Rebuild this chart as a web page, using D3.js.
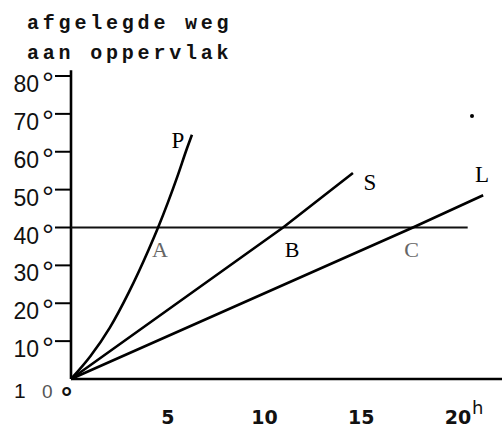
<!DOCTYPE html>
<html><head><meta charset="utf-8">
<script src="https://cdn.jsdelivr.net/npm/d3@7"></script>
<style>html,body{margin:0;padding:0;background:#fff;}svg{display:block;}</style>
</head><body>
<script>
const titleLines = ["afgelegde weg", "aan oppervlak"];
const yTicks = [10, 20, 30, 40, 50, 60, 70, 80];
const xTicks = [5, 10, 15, 20];
const xUnit = "h";
const curveP = [[0,0],[1,6],[2,13.5],[3,23],[4,34],[4.5,40],[5,46.5],[5.5,53.5],[6,61],[6.25,64.5]];
const lineS = [[0,0],[10.96,40],[14.57,54.4]];
const lineL = [[0,0],[17.67,40],[21.3,48.5]];
const refLevel = 40;
const refEnd = 20.5;
const curveLabels = [{n:"P", x:5.53, y:61}, {n:"S", x:15.45, y:50}, {n:"L", x:21.24, y:52}];
const pointLabels = [{n:"A", x:4.6, y:32.2, faint:true}, {n:"B", x:11.42, y:32.2, faint:false}, {n:"C", x:17.6, y:32.2, faint:true}];

const W = 502, H = 427;
const svg = d3.select("body").append("svg").attr("width", W).attr("height", H);
const x = d3.scaleLinear().domain([0, 20]).range([71, 458]);
const y = d3.scaleLinear().domain([0, 80]).range([379, 76]);

// title
const tf = "'Liberation Mono', 'DejaVu Sans Mono', monospace";
svg.selectAll("text.title").data(titleLines).join("text")
  .attr("x", 27).attr("y", (d,i) => 29 + i*30)
  .attr("font-family", tf).attr("font-size", 20).attr("font-weight", "bold")
  .attr("letter-spacing", 3.8).attr("fill", "#111").text(d => d);

// axes
svg.append("line").attr("x1", x(0)).attr("x2", x(0)).attr("y1", y(81.5)).attr("y2", y(0))
  .attr("stroke", "#000").attr("stroke-width", 2.6);
svg.append("line").attr("x1", x(0)).attr("x2", W).attr("y1", y(0)).attr("y2", y(0))
  .attr("stroke", "#000").attr("stroke-width", 2.6);

// y ticks
const lf = "'Liberation Sans', 'DejaVu Sans', sans-serif";
const yt = svg.selectAll("g.yt").data(yTicks).join("g").attr("class","yt");
yt.append("line").attr("x1", 55).attr("x2", x(0)).attr("y1", d => y(d)).attr("y2", d => y(d))
  .attr("stroke", "#000").attr("stroke-width", 2);
yt.append("text").attr("x", 39).attr("y", d => y(d) + 16).attr("text-anchor", "end")
  .attr("font-family", lf).attr("font-size", 23).attr("fill", "#111").text(d => d);
yt.append("text").attr("x", 42).attr("y", d => y(d) + 17)
  .attr("font-family", lf).attr("font-size", 30).attr("fill", "#111").text("°");

// origin label
svg.append("text").attr("x", 14).attr("y", 398).attr("font-family", lf).attr("font-size", 21).attr("fill", "#111").text("1");
svg.append("text").attr("x", 42).attr("y", 398).attr("font-family", lf).attr("font-size", 19).attr("fill", "#555").text("0");
svg.append("text").attr("x", 61).attr("y", 407).attr("font-family", lf).attr("font-size", 28).attr("font-weight","bold").attr("fill", "#111").text("°");

// x tick labels
const xt = svg.selectAll("g.xt").data(xTicks).join("g").attr("class","xt");
xt.append("text").attr("x", d => x(d)).attr("y", 424).attr("text-anchor", "middle")
  .attr("font-family", "'DejaVu Sans', sans-serif").attr("font-size", 19).attr("font-weight", "bold")
  .attr("fill", "#111").text(d => d);
svg.append("text").attr("x", x(20) + 14).attr("y", 414).attr("font-family", "'DejaVu Sans', sans-serif")
  .attr("font-size", 18).attr("fill", "#111").text(xUnit);

// reference line
svg.append("line").attr("x1", x(0)).attr("x2", x(refEnd)).attr("y1", y(refLevel)).attr("y2", y(refLevel))
  .attr("stroke", "#111").attr("stroke-width", 1.8);

// curves
const line = d3.line().x(d => x(d[0])).y(d => y(d[1]));
const lineC = d3.line().x(d => x(d[0])).y(d => y(d[1])).curve(d3.curveMonotoneX);
svg.append("path").attr("d", lineC(curveP)).attr("fill", "none").attr("stroke", "#000").attr("stroke-width", 2.6);
[lineS, lineL].forEach(s => svg.append("path").attr("d", line(s)).attr("fill", "none").attr("stroke", "#000").attr("stroke-width", 2.6));

// labels
const sf = "'Liberation Serif', 'DejaVu Serif', serif";
svg.selectAll("text.cl").data(curveLabels).join("text").attr("class","cl")
  .attr("x", d => x(d.x)).attr("y", d => y(d.y)).attr("text-anchor","middle")
  .attr("font-family", sf).attr("font-size", 23).attr("fill", "#000").text(d => d.n);
svg.selectAll("text.pl").data(pointLabels).join("text").attr("class","pl")
  .attr("x", d => x(d.x)).attr("y", d => y(d.y)).attr("text-anchor","middle")
  .attr("font-family", sf).attr("font-size", 22).attr("fill", d => d.faint ? "#666" : "#000").text(d => d.n);

// speck
svg.append("circle").attr("cx", 472).attr("cy", 116).attr("r", 2).attr("fill", "#000");
</script>
</body></html>
